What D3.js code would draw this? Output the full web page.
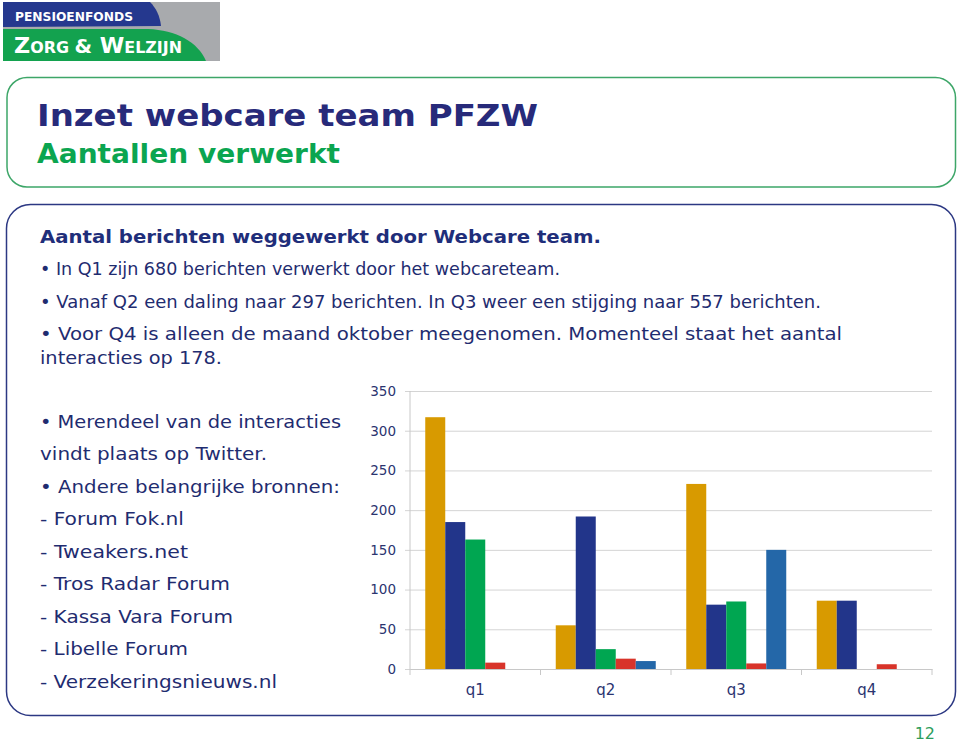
<!DOCTYPE html>
<html><head><meta charset="utf-8">
<script src="https://cdn.jsdelivr.net/npm/d3@7/dist/d3.min.js"></script>
<style>html,body{margin:0;padding:0;background:#fff;}svg{display:block;}</style>
</head><body>
<svg id="c" width="960" height="742"></svg>
<script>
// ---------- data ----------
const quarters = ["q1", "q2", "q3", "q4"];
const seriesNames = ["s1", "s2", "s3", "s4", "s5"];
const s1 = [317, 55, 233, 86];
const s2 = [185, 192, 81, 86];
const s3 = [163, 25, 85, null];
const s4 = [8, 13, 7, 6];
const s5 = [null, 10, 150, null];
const yTicks = [0, 50, 100, 150, 200, 250, 300, 350];
const seriesColors = ["#D89A00", "#22358A", "#00A651", "#D8342A", "#2467A8"];

const titleText = "Inzet webcare team PFZW";
const subtitleText = "Aantallen verwerkt";
const headerText = "Aantal berichten weggewerkt door Webcare team.";
const topLines = [
  "\u2022 In Q1 zijn 680 berichten verwerkt door het webcareteam.",
  "\u2022 Vanaf Q2 een daling naar 297 berichten. In Q3 weer een stijging naar 557 berichten.",
  "\u2022 Voor Q4 is alleen de maand oktober meegenomen. Momenteel staat het aantal",
  "interacties op 178."
];
const leftLines = [
  "\u2022 Merendeel van de interacties",
  "vindt plaats op Twitter.",
  "\u2022 Andere belangrijke bronnen:",
  "- Forum Fok.nl",
  "- Tweakers.net",
  "- Tros Radar Forum",
  "- Kassa Vara Forum",
  "- Libelle Forum",
  "- Verzekeringsnieuws.nl"
];
const pageNumber = "12";

// ---------- layout ----------
const svg = d3.select("#c");
const navy = "#1F2C70";
const font = "'DejaVu Sans', Verdana, sans-serif";

// logo
const logo = svg.append("g");
logo.append("rect").attr("x", 3).attr("y", 2).attr("width", 217).attr("height", 59).attr("fill", "#A8AAAD");
logo.append("path").attr("d", "M3,2 H150 C156,8 160,16 161,26 L3,27 Z").attr("fill", "#25388E");
logo.append("path").attr("d", "M3,29 H148 C176,30 198,42 206,61 H3 Z").attr("fill", "#13A24F");
logo.append("text").attr("x", 15).attr("y", 21).text("PENSIOENFONDS")
  .attr("font-family", font).attr("font-weight", "bold").attr("font-size", 12.5)
  .attr("fill", "#fff").attr("textLength", 118).attr("lengthAdjust", "spacingAndGlyphs");
const zw = logo.append("text").attr("x", 14).attr("y", 53)
  .attr("font-family", font).attr("font-weight", "bold").attr("fill", "#fff")
  .attr("textLength", 168).attr("lengthAdjust", "spacingAndGlyphs");
[["Z", 21], ["ORG ", 15], ["&", 19], [" W", 21], ["ELZIJN", 15]].forEach(([t, s]) =>
  zw.append("tspan").attr("font-size", s).text(t));

// title box
svg.append("rect").attr("x", 7).attr("y", 77.5).attr("width", 948.5).attr("height", 109.5)
  .attr("rx", 20).attr("fill", "#fff").attr("stroke", "#3DA668").attr("stroke-width", 1.5);
svg.append("text").attr("x", 37).attr("y", 126).text(titleText)
  .attr("font-family", font).attr("font-weight", "bold").attr("font-size", 31)
  .attr("fill", "#272A7A").attr("textLength", 501).attr("lengthAdjust", "spacingAndGlyphs");
svg.append("text").attr("x", 37).attr("y", 163).text(subtitleText)
  .attr("font-family", font).attr("font-weight", "bold").attr("font-size", 27)
  .attr("fill", "#0BA550").attr("textLength", 303).attr("lengthAdjust", "spacingAndGlyphs");

// main box
svg.append("rect").attr("x", 6.5).attr("y", 204.5).attr("width", 949).attr("height", 511)
  .attr("rx", 24).attr("fill", "#fff").attr("stroke", "#2C3883").attr("stroke-width", 1.5);

svg.append("text").attr("x", 40).attr("y", 243).text(headerText)
  .attr("font-family", font).attr("font-weight", "bold").attr("font-size", 17.5)
  .attr("fill", "#1F2E7A").attr("textLength", 561).attr("lengthAdjust", "spacingAndGlyphs");

const topY = [275, 307.5, 340, 363.5];
const topW = [520, 781, 802, 182];
svg.append("g").selectAll("text").data(topLines).join("text")
  .attr("x", 40).attr("y", (d, i) => topY[i]).text(d => d)
  .attr("font-family", font).attr("font-size", 17.5).attr("fill", navy)
  .attr("textLength", (d, i) => topW[i]).attr("lengthAdjust", "spacingAndGlyphs");

const leftW = [301, 227, 300, 144, 148, 190, 193, 148, 237];
svg.append("g").selectAll("text").data(leftLines).join("text")
  .attr("x", 40).attr("y", (d, i) => 427.5 + i * 32.5).text(d => d)
  .attr("font-family", font).attr("font-size", 17.5).attr("fill", navy)
  .attr("textLength", (d, i) => leftW[i]).attr("lengthAdjust", "spacingAndGlyphs");

svg.append("text").attr("x", 935).attr("y", 739).attr("text-anchor", "end").text(pageNumber)
  .attr("font-family", font).attr("font-size", 16).attr("fill", "#2E9E5C");

// ---------- chart ----------
const x0 = d3.scaleBand().domain(quarters).range([410, 932]).padding(0);
const x1 = d3.scaleBand().domain(seriesNames).range([0, x0.bandwidth()]).paddingInner(0).paddingOuter(0.7625);
const y = d3.scaleLinear().domain([0, 350]).range([669, 391]);

const chart = svg.append("g");
const yAxis = d3.axisLeft(y).tickValues(yTicks).tickSize(-(932 - 405)).tickPadding(10).tickSizeOuter(0);
const ga = chart.append("g").attr("transform", "translate(405,0)").call(yAxis);
ga.select(".domain").remove();
ga.selectAll(".tick line").attr("stroke", "#D4D4D4").attr("stroke-width", 1);
ga.selectAll(".tick text").attr("font-family", font).attr("font-size", 13.5).attr("fill", "#2B3470").attr("x", -9);

chart.append("line").attr("x1", 410).attr("x2", 410).attr("y1", 391).attr("y2", 669)
  .attr("stroke", "#C8C8C8").attr("stroke-width", 1);

const allSeries = [s1, s2, s3, s4, s5];
const barData = [];
quarters.forEach((q, qi) => seriesNames.forEach((s, si) => {
  const v = allSeries[si][qi];
  if (v !== null && v !== undefined) barData.push({ q, s, v, c: seriesColors[si] });
}));
chart.append("g").selectAll("rect").data(barData).join("rect")
  .attr("x", d => x0(d.q) + x1(d.s))
  .attr("width", x1.bandwidth())
  .attr("y", d => y(d.v))
  .attr("height", d => y(0) - y(d.v))
  .attr("fill", d => d.c);

const xAxis = d3.axisBottom(x0).tickSize(0).tickPadding(15);
const gx = chart.append("g").attr("transform", "translate(0,669)").call(xAxis);
gx.select(".domain").attr("stroke", "#C8C8C8");
gx.selectAll(".tick text").attr("font-family", font).attr("font-size", 15).attr("fill", "#2B3470");
const bounds = quarters.map(q => x0(q)).concat([x0(quarters[3]) + x0.bandwidth()]);
chart.append("g").selectAll("line").data(bounds).join("line")
  .attr("x1", d => d).attr("x2", d => d).attr("y1", 669).attr("y2", 675)
  .attr("stroke", "#C8C8C8");
</script>
</body></html>
